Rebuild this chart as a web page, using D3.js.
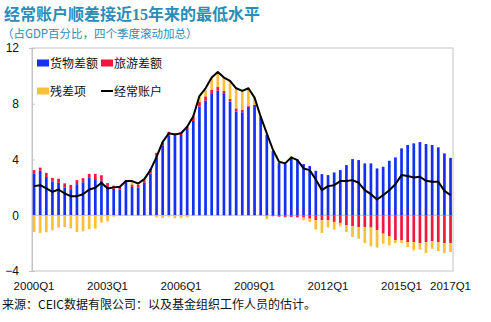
<!DOCTYPE html>
<html lang="zh">
<head>
<meta charset="utf-8">
<title>经常账户顺差接近15年来的最低水平</title>
<script src="https://cdnjs.cloudflare.com/ajax/libs/d3/7.8.5/d3.min.js"></script>
<style>
  body { margin: 0; background: #fff; }
  svg { display: block; }
</style>
</head>
<body>
<div id="chart"></div>
<script>
// quarters 2000Q1 .. 2017Q1
const quarters = [
  "2000Q1","2000Q2","2000Q3","2000Q4","2001Q1","2001Q2","2001Q3","2001Q4",
  "2002Q1","2002Q2","2002Q3","2002Q4","2003Q1","2003Q2","2003Q3","2003Q4",
  "2004Q1","2004Q2","2004Q3","2004Q4","2005Q1","2005Q2","2005Q3","2005Q4",
  "2006Q1","2006Q2","2006Q3","2006Q4","2007Q1","2007Q2","2007Q3","2007Q4",
  "2008Q1","2008Q2","2008Q3","2008Q4","2009Q1","2009Q2","2009Q3","2009Q4",
  "2010Q1","2010Q2","2010Q3","2010Q4","2011Q1","2011Q2","2011Q3","2011Q4",
  "2012Q1","2012Q2","2012Q3","2012Q4","2013Q1","2013Q2","2013Q3","2013Q4",
  "2014Q1","2014Q2","2014Q3","2014Q4","2015Q1","2015Q2","2015Q3","2015Q4",
  "2016Q1","2016Q2","2016Q3","2016Q4","2017Q1"
];
const tickLabels = ["2000Q1","2003Q1","2006Q1","2009Q1","2012Q1","2015Q1","2017Q1"];
const yTicks = [-4, 0, 4, 8, 12];

// 货物差额
const goods = [
  3.0, 3.2, 2.75, 2.42, 2.33, 2.0, 1.87, 2.23, 2.37, 2.68, 2.59, 2.49,
  2.0, 1.9, 1.85, 2.4, 2.04, 2.0, 2.33, 3.0, 4.12, 4.99, 5.7, 5.68,
  5.76, 6.19, 6.77, 7.79, 8.22, 8.7, 8.94, 8.7, 8.15, 7.43, 7.39, 7.79,
  7.91, 7.07, 5.76, 4.6, 3.76, 3.67, 4.15, 4.0, 3.67, 3.53, 3.19, 2.95,
  2.88, 3.07, 3.24, 3.6, 4.03, 3.96, 3.72, 3.72, 3.36, 3.48, 3.91, 4.15,
  4.8, 5.04, 5.16, 5.25, 5.11, 5.04, 4.87, 4.44, 4.12
];
// 旅游差额
const tourism = [
  0.24, 0.22, 0.29, 0.26, 0.29, 0.29, 0.31, 0.29, 0.29, 0.29, 0.38, 0.38,
  0.31, 0.22, 0.19, 0.1, 0.17, 0.19, 0.19, 0.33, 0.36, 0.24, 0.29, 0.19,
  0.19, 0.17, 0.31, 0.36, 0.31, 0.29, 0.26, 0.22, 0.19, 0.24, 0.17, 0.07,
  0.0, 0.0, -0.03, -0.07, -0.1, -0.12, -0.12, -0.15, -0.17, -0.24, -0.36, -0.36,
  -0.36, -0.48, -0.55, -0.72, -0.79, -0.84, -0.84, -0.88, -1.08, -1.32, -1.51, -1.8,
  -1.8, -1.92, -1.92, -1.99, -1.92, -1.85, -1.92, -1.99, -1.99
];
// 残差项
const residual = [
  -1.2, -1.27, -1.22, -1.08, -0.89, -0.84, -0.94, -1.2, -1.15, -1.0, -0.96, -0.53,
  -0.43, -0.1, 0.05, 0.0, 0.26, 0.1, 0.08, -0.05, -0.15, -0.2, -0.1, -0.22,
  -0.22, -0.15, 0.1, 0.36, 0.45, 0.84, 0.99, 0.95, 1.29, 1.44, 1.37, 1.26,
  0.53, 0.02, -0.24, 0.0, 0.0, -0.05, 0.1, 0.0, -0.19, -0.24, -0.67, -0.91,
  -0.52, -0.55, -0.24, -0.48, -0.77, -0.84, -1.15, -1.35, -1.24, -0.72, -0.65, -0.19,
  -0.19, -0.36, -0.6, -0.48, -0.79, -0.55, -0.65, -0.72, -0.65
];
// 经常账户
const currentAccount = [
  2.09, 2.16, 1.92, 1.68, 1.85, 1.56, 1.37, 1.37, 1.51, 1.85, 1.97, 2.33,
  1.92, 2.0, 2.04, 2.45, 2.45, 2.28, 2.59, 3.24, 4.19, 5.27, 5.88, 5.8,
  5.88, 6.35, 7.1, 8.55, 9.11, 9.88, 10.27, 9.88, 9.64, 9.11, 8.92, 9.11,
  8.44, 7.07, 5.88, 4.7, 3.84, 3.72, 4.15, 3.96, 3.36, 3.24, 2.57, 1.8,
  2.09, 2.16, 2.45, 2.45, 2.52, 2.33, 1.8, 1.51, 1.13, 1.44, 1.8, 2.23,
  2.88, 2.81, 2.71, 2.76, 2.47, 2.4, 2.4, 1.75, 1.44
];

const keys = ["goods", "tourism", "residual"];
const names = { goods: "货物差额", tourism: "旅游差额", residual: "残差项" };
const colors = { goods: "#1530f2", tourism: "#f2163f", residual: "#fcbf3a" };

const w = 491;
const h = 322;
const plotLeft = 32, plotRight = 453, plotTop = 48, plotBottom = 271;
const cjk = "'Noto Sans CJK SC', sans-serif";
const latin = "'Liberation Sans', Arial, sans-serif";
const titleColor = "#2b8cb6";

const table = quarters.map((q, i) => ({
  q: q, goods: goods[i], tourism: tourism[i], residual: residual[i], ca: currentAccount[i]
}));

const svg = d3.select("#chart").append("svg")
  .attr("width", w)
  .attr("height", h);

const x = d3.scaleBand()
  .domain(quarters)
  .range([31, 453.6])
  .paddingInner(0.56)
  .paddingOuter(0.28);

const y = d3.scaleLinear()
  .domain([-4, 12])
  .range([plotBottom, plotTop]);

// frame
svg.append("rect")
  .attr("x", plotLeft).attr("y", plotTop)
  .attr("width", plotRight - plotLeft).attr("height", plotBottom - plotTop)
  .attr("fill", "none")
  .attr("stroke", "#c4c4c4")
  .attr("stroke-width", 1);

// zero line
svg.append("line")
  .attr("x1", plotLeft).attr("x2", plotRight)
  .attr("y1", y(0)).attr("y2", y(0))
  .attr("stroke", "#c4c4c4");

// y axis
const yAxis = d3.axisLeft(y).tickValues(yTicks).tickSize(3).tickPadding(10);
svg.append("g")
  .attr("transform", `translate(${plotLeft},0)`)
  .call(yAxis)
  .call(g => g.select(".domain").attr("stroke", "#c4c4c4"))
  .call(g => g.selectAll(".tick line").attr("stroke", "#c4c4c4").attr("x2", 3).attr("x1", 0))
  .call(g => g.selectAll("text")
    .attr("font-family", latin)
    .attr("font-size", 12)
    .attr("fill", "#111"));

// stacked bars
const stack = d3.stack().keys(keys).offset(d3.stackOffsetDiverging);
const series = stack(table);

svg.append("g")
  .selectAll("g")
  .data(series)
  .enter()
  .append("g")
  .attr("fill", d => colors[d.key])
  .selectAll("rect")
  .data(d => d)
  .enter()
  .append("rect")
  .attr("x", d => x(d.data.q))
  .attr("width", x.bandwidth())
  .attr("y", d => y(Math.max(d[0], d[1])))
  .attr("height", d => Math.abs(y(d[0]) - y(d[1])));

// current account line
const line = d3.line()
  .x(d => x(d.q) + x.bandwidth() / 2)
  .y(d => y(d.ca));

svg.append("path")
  .datum(table)
  .attr("d", line)
  .attr("fill", "none")
  .attr("stroke", "#000")
  .attr("stroke-width", 2)
  .attr("stroke-linejoin", "round");

// x axis labels
const xAxis = d3.axisBottom(x).tickValues(tickLabels).tickSize(0).tickPadding(0);
svg.append("g")
  .attr("transform", `translate(0,${plotBottom + 11})`)
  .call(xAxis)
  .call(g => g.select(".domain").remove())
  .call(g => g.selectAll("text")
    .attr("font-family", latin)
    .attr("font-size", 11.5)
    .attr("fill", "#111"));

// legend
const legendItems = [
  { key: "goods", lx: 37, ly: 63 },
  { key: "tourism", lx: 101, ly: 63 },
  { key: "residual", lx: 37, ly: 91 },
  { key: "ca", lx: 101, ly: 91 }
];
const legend = svg.append("g").attr("class", "legend");
legendItems.forEach(it => {
  if (it.key === "ca") {
    legend.append("line")
      .attr("x1", it.lx).attr("x2", it.lx + 12)
      .attr("y1", it.ly).attr("y2", it.ly)
      .attr("stroke", "#000").attr("stroke-width", 2);
  } else {
    legend.append("rect")
      .attr("x", it.lx).attr("y", it.ly - 3.5)
      .attr("width", 12).attr("height", 7)
      .attr("fill", colors[it.key]);
  }
  legend.append("text")
    .attr("x", it.lx + 13)
    .attr("y", it.ly + 4.5)
    .attr("font-family", cjk)
    .attr("font-size", 12)
    .attr("fill", "#111")
    .text(it.key === "ca" ? "经常账户" : names[it.key]);
});

// title
const title = svg.append("text")
  .attr("x", 4).attr("y", 20)
  .attr("font-family", cjk)
  .attr("font-size", 16)
  .attr("font-weight", "bold")
  .attr("fill", titleColor);
title.append("tspan").text("经常账户顺差接近");
title.append("tspan").attr("font-family", "'Liberation Serif', serif").text("15");
title.append("tspan").text("年来的最低水平");

svg.append("text")
  .attr("x", 2).attr("y", 38)
  .attr("font-family", cjk)
  .attr("font-size", 11.5)
  .attr("fill", titleColor)
  .text("（占GDP百分比，四个季度滚动加总）");

// source
svg.append("text")
  .attr("x", 2).attr("y", 309)
  .attr("font-family", cjk)
  .attr("font-size", 12)
  .attr("fill", "#111")
  .text("来源：CEIC数据有限公司：以及基金组织工作人员的估计。");
</script>
</body>
</html>
